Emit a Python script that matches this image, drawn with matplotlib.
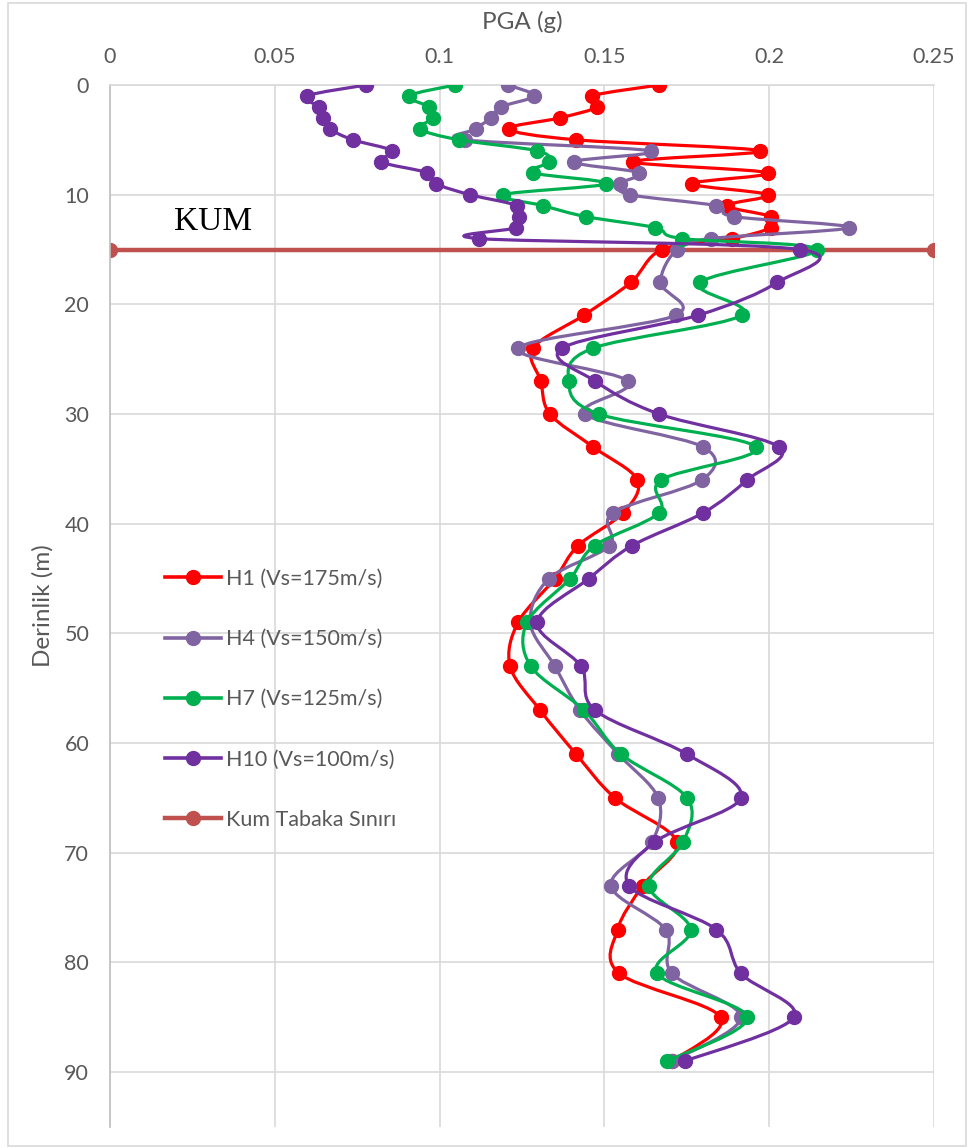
import matplotlib

matplotlib.use("Agg")
import matplotlib.pyplot as plt
from matplotlib.lines import Line2D
from matplotlib.patches import PathPatch, Rectangle
from matplotlib.path import Path

# depth (m) of each output point
depth = [0, 1, 2, 3, 4, 5, 6, 7, 8, 9, 10, 11, 12, 13, 14, 15,
         18, 21, 24, 27, 30, 33, 36, 39, 42, 45, 49, 53, 57, 61, 65,
         69, 73, 77, 81, 85, 89]

# PGA (g) per profile
h1 = [0.1666, 0.1462, 0.1478, 0.1365, 0.1210, 0.1415, 0.1973, 0.1587,
      0.1996, 0.1766, 0.1995, 0.1872, 0.2005, 0.2005, 0.1887, 0.1675,
      0.1580, 0.1437, 0.1283, 0.1307, 0.1335, 0.1466, 0.1600, 0.1557,
      0.1420, 0.1350, 0.1238, 0.1214, 0.1305, 0.1414, 0.1532, 0.1720,
      0.1616, 0.1540, 0.1545, 0.1853, 0.1705]
h4 = [0.1208, 0.1286, 0.1186, 0.1156, 0.1110, 0.1077, 0.1640, 0.1408,
      0.1605, 0.1547, 0.1578, 0.1838, 0.1893, 0.2242, 0.1823, 0.1720,
      0.1670, 0.1716, 0.1238, 0.1572, 0.1441, 0.1799, 0.1796, 0.1526,
      0.1515, 0.1332, 0.1275, 0.1350, 0.1426, 0.1542, 0.1663, 0.1644,
      0.1520, 0.1686, 0.1705, 0.1914, 0.1705]
h7 = [0.1047, 0.0907, 0.0968, 0.0980, 0.0941, 0.1059, 0.1296, 0.1332,
      0.1283, 0.1505, 0.1192, 0.1314, 0.1444, 0.1654, 0.1735, 0.2145,
      0.1790, 0.1916, 0.1465, 0.1392, 0.1483, 0.1960, 0.1672, 0.1666,
      0.1470, 0.1396, 0.1265, 0.1277, 0.1438, 0.1550, 0.1751, 0.1739,
      0.1635, 0.1762, 0.1660, 0.1933, 0.1690]
h10 = [0.0777, 0.0598, 0.0634, 0.0646, 0.0667, 0.0737, 0.0856, 0.0822,
       0.0962, 0.0989, 0.1092, 0.1235, 0.1241, 0.1232, 0.1120, 0.2093,
       0.2024, 0.1783, 0.1371, 0.1472, 0.1666, 0.2030, 0.1933, 0.1800,
       0.1584, 0.1453, 0.1296, 0.1429, 0.1472, 0.1750, 0.1914, 0.1654,
       0.1575, 0.1840, 0.1914, 0.2075, 0.1744]

# sand layer boundary
kum_x = [0.0, 0.25]
kum_y = [15, 15]

labels = ["H1 (Vs=175m/s)", "H4 (Vs=150m/s)", "H7 (Vs=125m/s)",
          "H10 (Vs=100m/s)", "Kum Tabaka Sınırı"]
colors = ["#FF0000", "#8064A2", "#00B050", "#7030A0", "#C0504D"]

plt.rcParams["font.family"] = ["Lato", "DejaVu Sans"]
TXT = "#595959"


def smooth_path(xs, ys):
    # Excel-style smoothed line: Catmull-Rom segments as cubic Beziers
    pts = list(zip(xs, ys))
    verts = [pts[0]]
    codes = [Path.MOVETO]
    n = len(pts)
    for i in range(n - 1):
        p0 = pts[i - 1] if i > 0 else pts[i]
        p1 = pts[i]
        p2 = pts[i + 1]
        p3 = pts[i + 2] if i + 2 < n else pts[i + 1]
        c1 = (p1[0] + (p2[0] - p0[0]) / 6, p1[1] + (p2[1] - p0[1]) / 6)
        c2 = (p2[0] - (p3[0] - p1[0]) / 6, p2[1] - (p3[1] - p1[1]) / 6)
        verts += [c1, c2, p2]
        codes += [Path.CURVE4] * 3
    return Path(verts, codes)


fig = plt.figure(figsize=(9.69, 11.48), dpi=100)
fig.patches.append(Rectangle((8 / 969, 2 / 1148), 958 / 969, 1143 / 1148,
                             transform=fig.transFigure, fill=False,
                             edgecolor="#D9D9D9", lw=1.2))
ax = fig.add_axes([110 / 969, 1 - 1127 / 1148, 824 / 969, 1042 / 1148])

# boundary line first so the profiles sit on top of it
ax.plot(kum_x, kum_y, color=colors[4], lw=3.2, marker="o", ms=10, zorder=2)

for series, color in zip([h1, h4, h7, h10], colors[:4]):
    ax.add_patch(PathPatch(smooth_path(series, depth), facecolor="none",
                           edgecolor=color, lw=2.3, zorder=3))
    ax.plot(series, depth, ls="none", marker="o", ms=10, color=color, zorder=3)

ax.set_xlim(0, 0.25)
ax.set_ylim(95, 0)
ax.set_xticks([0, 0.05, 0.1, 0.15, 0.2, 0.25])
ax.set_xticklabels(["0", "0.05", "0.1", "0.15", "0.2", "0.25"])
ax.set_yticks(range(0, 91, 10))
ax.xaxis.tick_top()
ax.xaxis.set_label_position("top")
ax.tick_params(axis="x", length=0, pad=13, labelsize=15.5, labelcolor=TXT)
ax.tick_params(axis="y", length=0, pad=15, labelsize=15.5, labelcolor=TXT)
ax.grid(True, color="#D9D9D9", lw=1.2)
ax.set_axisbelow(True)
for side in ["right", "bottom"]:
    ax.spines[side].set_visible(False)
ax.spines["left"].set_color("#BFBFBF")
ax.spines["top"].set_color("#D9D9D9")
ax.spines["left"].set_linewidth(1.2)
ax.spines["top"].set_linewidth(1.2)

ax.set_xlabel("PGA (g)", fontsize=17.5, color=TXT, labelpad=13)
ax.set_ylabel("Derinlik (m)", fontsize=17.5, color=TXT, labelpad=8)

ax.text(0.0195, 12.5, "KUM", family="Liberation Serif", fontsize=24,
        va="center", ha="left", color="black")

handles = [Line2D([], [], color=c, lw=2.6 if i < 4 else 3.2, marker="o", ms=10)
           for i, c in enumerate(colors)]
ax.legend(handles, labels, loc="upper left", bbox_to_anchor=(0.054, 0.546),
          frameon=False, fontsize=15.5, labelcolor=TXT, borderpad=0,
          handlelength=2.6, handletextpad=0.2, labelspacing=1.87)

fig.savefig("out.png", dpi=100)
